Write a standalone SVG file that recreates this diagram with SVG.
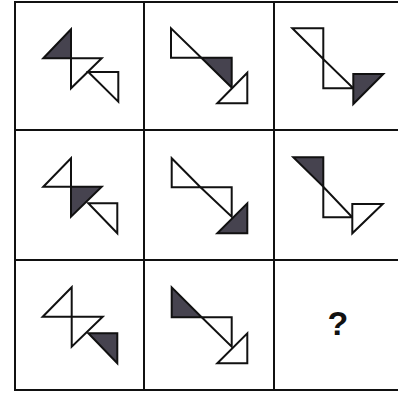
<svg xmlns="http://www.w3.org/2000/svg" width="398" height="394" viewBox="0 0 398 394">
<style>
.g{stroke:#111;stroke-width:2;fill:none}
.w{fill:#fff;stroke:#111;stroke-width:2;stroke-linejoin:miter}
.d{fill:#46434f;stroke:#111;stroke-width:2;stroke-linejoin:miter}
.q{font-family:"Liberation Sans",Arial,sans-serif;font-weight:bold;font-size:34px;fill:#111}
</style>
<rect width="398" height="394" fill="#fff"/>
<g id="grid">
<line class="g" x1="15" y1="2" x2="398" y2="2"/>
<line class="g" x1="15" y1="130" x2="398" y2="130"/>
<line class="g" x1="15" y1="260" x2="398" y2="260"/>
<line class="g" x1="15" y1="390" x2="398" y2="390"/>
<line class="g" x1="15" y1="1" x2="15" y2="391"/>
<line class="g" x1="144" y1="1" x2="144" y2="391"/>
<line class="g" x1="274" y1="1" x2="274" y2="391"/>
</g>
<g id="cell1">
<polygon class="d" points="43.3,58.3 71,29.3 71,58.3"/>
<polygon class="w" points="71,58.3 101.7,58.3 71,88.3"/>
<polygon class="w" points="88.3,72 118.3,72 118.3,101.7"/>
</g>
<g id="cell2">
<polygon class="w" points="171,28.3 171,57.7 201.3,57.7"/>
<polygon class="d" points="201.3,57.7 231.7,57.7 231.7,87.5"/>
<polygon class="w" points="247.3,72.7 247.3,103.3 217.3,103.3"/>
</g>
<g id="cell3">
<polygon class="w" points="292.3,28.3 323.3,28.3 323.3,59"/>
<polygon class="w" points="323.3,59 323.3,88.3 353.3,88.3"/>
<polygon class="d" points="353.3,74 383.3,74 353.3,104"/>
</g>
<g id="cell4">
<polygon class="w" points="43.3,186.7 71,158.3 71,186.7"/>
<polygon class="d" points="71,186.7 101.7,186.7 71,216.7"/>
<polygon class="w" points="88.3,203.3 117.3,203.3 117.3,233.3"/>
</g>
<g id="cell5">
<polygon class="w" points="171.7,158.3 171.7,187.3 200.5,187.3"/>
<polygon class="w" points="200.5,187.3 231.7,187.3 231.7,216.7"/>
<polygon class="d" points="247.3,203.3 247.3,233.3 217.3,233.3"/>
</g>
<g id="cell6">
<polygon class="d" points="293.3,157.3 323.3,157.3 323.3,186.7"/>
<polygon class="w" points="323.3,186.7 323.3,217.3 352.3,217.3"/>
<polygon class="w" points="352.3,204 382.7,204 352.3,233.3"/>
</g>
<g id="cell7">
<polygon class="w" points="42.7,316.7 71.7,287.3 71.7,316.7"/>
<polygon class="w" points="71.7,316.7 102.7,316.7 71.7,346.7"/>
<polygon class="d" points="88.3,333.3 117.3,333.3 117.3,363.3"/>
</g>
<g id="cell8">
<polygon class="d" points="171.7,287.3 171.7,317.3 201.7,317.3"/>
<polygon class="w" points="201.7,317.3 231.7,317.3 231.7,346.7"/>
<polygon class="w" points="247.3,333.3 247.3,363.3 217.3,363.3"/>
</g>
<g id="cell9">
<text class="q" x="338" y="335" text-anchor="middle">?</text>
</g>
</svg>
